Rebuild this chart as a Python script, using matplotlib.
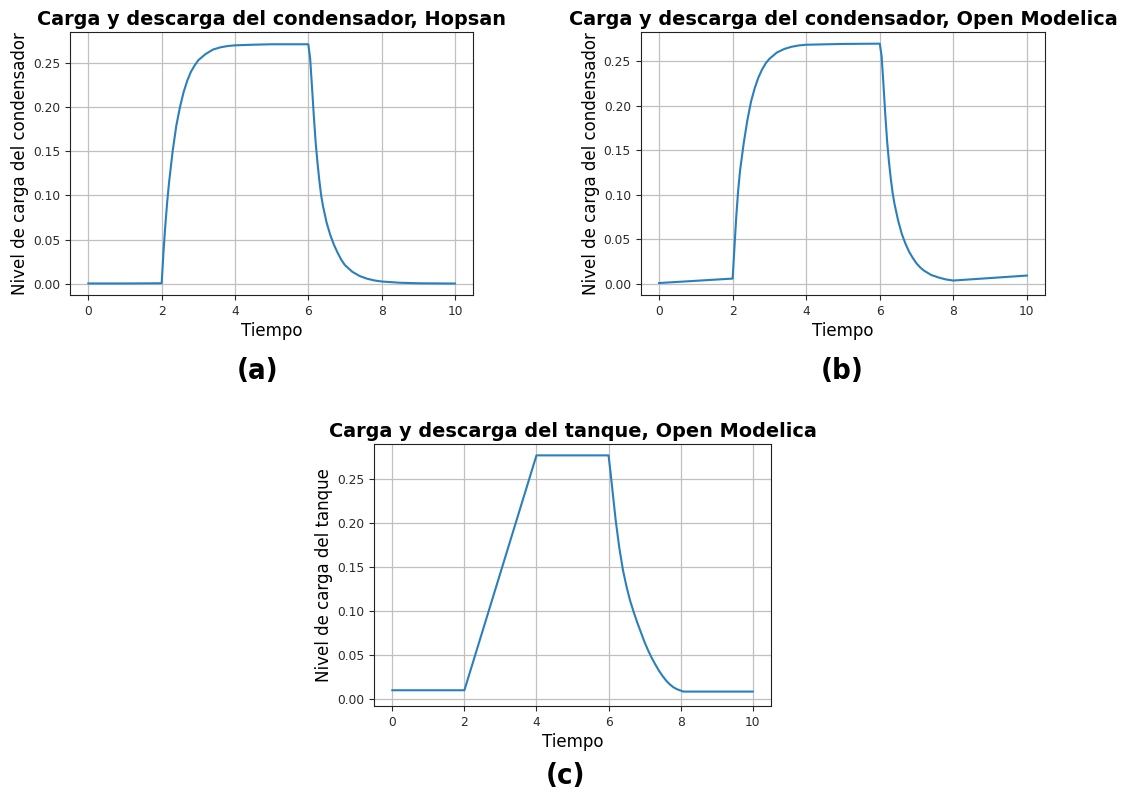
import matplotlib
matplotlib.use("Agg")
import matplotlib.pyplot as plt

# ---- data ----
titles = ["Carga y descarga del condensador, Hopsan",
          "Carga y descarga del condensador, Open Modelica",
          "Carga y descarga del tanque, Open Modelica"]
ylabels = ["Nivel de carga del condensador",
           "Nivel de carga del condensador",
           "Nivel de carga del tanque"]
xlabel = "Tiempo"
panel_tags = ["(a)", "(b)", "(c)"]
xticks = [0, 2, 4, 6, 8, 10]
yticks = [0.00, 0.05, 0.10, 0.15, 0.20, 0.25]

t_a = [0, 1, 2.0, 2.05, 2.1, 2.15, 2.2, 2.3, 2.4, 2.5, 2.6, 2.7, 2.8, 2.9, 3.0,
       3.2, 3.4, 3.6, 3.8, 4.0, 4.5, 5.0, 6.0, 6.05, 6.1, 6.15, 6.2, 6.25, 6.3,
       6.35, 6.4, 6.5, 6.6, 6.7, 6.8, 6.9, 7.0, 7.2, 7.4, 7.6, 7.8, 8.0, 8.5,
       9.0, 10.0]
y_a = [0.0003, 0.0003, 0.0005, 0.036, 0.066, 0.092, 0.114, 0.150, 0.179, 0.200,
       0.217, 0.230, 0.240, 0.247, 0.253, 0.260, 0.265, 0.2675, 0.269, 0.2698,
       0.2705, 0.271, 0.271, 0.255, 0.223, 0.190, 0.160, 0.137, 0.117, 0.100,
       0.088, 0.069, 0.055, 0.044, 0.035, 0.027, 0.021, 0.0135, 0.0087, 0.0057,
       0.0037, 0.0025, 0.0011, 0.0005, 0.0002]

t_b = [0, 2.0, 2.05, 2.1, 2.15, 2.2, 2.3, 2.4, 2.5, 2.6, 2.7, 2.8, 2.9, 3.0,
       3.2, 3.4, 3.6, 3.8, 4.0, 5.0, 6.0, 6.05, 6.1, 6.15, 6.2, 6.25, 6.3, 6.35,
       6.4, 6.5, 6.6, 6.7, 6.8, 6.9, 7.0, 7.1, 7.2, 7.4, 7.6, 7.8, 8.0, 10.0]
y_b = [0.001, 0.006, 0.042, 0.077, 0.105, 0.127, 0.158, 0.184, 0.205, 0.220,
       0.232, 0.241, 0.248, 0.253, 0.260, 0.264, 0.2665, 0.268, 0.2688, 0.2697,
       0.270, 0.256, 0.224, 0.190, 0.160, 0.137, 0.118, 0.102, 0.090, 0.071,
       0.056, 0.045, 0.036, 0.029, 0.023, 0.0185, 0.015, 0.010, 0.0072, 0.0050,
       0.0038, 0.0094]

t_c = [0, 2.0, 4.0, 6.0, 6.05, 6.1, 6.15, 6.2, 6.3, 6.4, 6.5, 6.6, 6.7, 6.8,
       6.9, 7.0, 7.1, 7.2, 7.3, 7.4, 7.5, 7.6, 7.7, 7.8, 7.9, 8.0, 8.07, 10.0]
y_c = [0.0103, 0.0103, 0.2774, 0.2774, 0.260, 0.241, 0.222, 0.203, 0.172,
       0.147, 0.128, 0.112, 0.099, 0.087, 0.076, 0.065, 0.0555, 0.047, 0.0395,
       0.0325, 0.0265, 0.0212, 0.0170, 0.0137, 0.0115, 0.0100, 0.0088, 0.0088]

series = [(t_a, y_a), (t_b, y_b), (t_c, y_c)]

# ---- layout ----
W, H = 1127, 792
fig = plt.figure(figsize=(W / 100, H / 100), dpi=100)
boxes = [(70, 32.3, 473.3, 295.5),
         (640.7, 31.7, 1045.3, 295.0),
         (374.3, 444.3, 770.7, 706.0)]
tag_pos = [(258, 371), (842, 371), (565, 776)]

for i, ((x0, y0, x1, y1), (t, y)) in enumerate(zip(boxes, series)):
    ax = fig.add_axes([x0 / W, 1 - y1 / H, (x1 - x0) / W, (y1 - y0) / H])
    ax.plot(t, y, color="#2a7fbd", lw=1.5)
    ax.set_xticks(xticks)
    ax.set_yticks(yticks)
    ax.set_yticklabels([f"{v:.2f}" for v in yticks])
    ax.tick_params(labelsize=8.8, colors="#2a2a2a")
    ax.grid(True, color="#c0c0c0", lw=0.9)
    ax.set_axisbelow(True)
    ax.set_title(titles[i], fontsize=13.9, fontweight="bold", pad=5)
    ax.set_xlabel(xlabel, fontsize=12, labelpad=3)
    ax.set_ylabel(ylabels[i], fontsize=12, labelpad=3)
    if i == 2:
        ax.set_ylim(-0.0076, 0.290)
    for s in ax.spines.values():
        s.set_color("#222222")
    tx, ty = tag_pos[i]
    fig.text(tx / W, 1 - ty / H, panel_tags[i], ha="center", va="center",
             fontsize=21, fontweight="bold", fontstretch="condensed",
             family="DejaVu Sans")

fig.savefig("out.png", dpi=100)
